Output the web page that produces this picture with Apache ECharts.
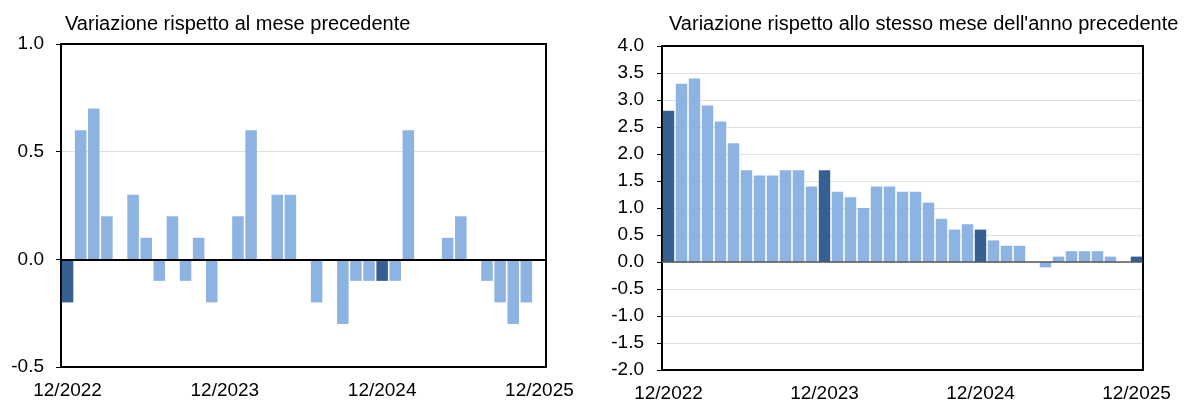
<!DOCTYPE html>
<html>
<head>
<meta charset="utf-8">
<script src="https://cdn.jsdelivr.net/npm/echarts@6/dist/echarts.min.js"></script>
<style>
html,body{margin:0;padding:0;background:#fff;}
#c{width:1185px;height:403px;}
</style>
</head>
<body>
<div id="c"></div>
<script>
// Months 12/2022 .. 12/2025
const categories = [
  "12/2022","1/2023","2/2023","3/2023","4/2023","5/2023","6/2023","7/2023","8/2023","9/2023","10/2023","11/2023",
  "12/2023","1/2024","2/2024","3/2024","4/2024","5/2024","6/2024","7/2024","8/2024","9/2024","10/2024","11/2024",
  "12/2024","1/2025","2/2025","3/2025","4/2025","5/2025","6/2025","7/2025","8/2025","9/2025","10/2025","11/2025",
  "12/2025"
];
// Variazione rispetto al mese precedente
const monthlyChange = [
  -0.2, 0.6, 0.7, 0.2, 0.0, 0.3, 0.1, -0.1, 0.2, -0.1, 0.1, -0.2,
  0.0, 0.2, 0.6, 0.0, 0.3, 0.3, 0.0, -0.2, 0.0, -0.3, -0.1, -0.1,
  -0.1, -0.1, 0.6, 0.0, 0.0, 0.1, 0.2, 0.0, -0.1, -0.2, -0.3, -0.2,
  0.0
];
// Variazione rispetto allo stesso mese dell'anno precedente
const yearlyChange = [
  2.8, 3.3, 3.4, 2.9, 2.6, 2.2, 1.7, 1.6, 1.6, 1.7, 1.7, 1.4,
  1.7, 1.3, 1.2, 1.0, 1.4, 1.4, 1.3, 1.3, 1.1, 0.8, 0.6, 0.7,
  0.6, 0.4, 0.3, 0.3, 0.0, -0.1, 0.1, 0.2, 0.2, 0.2, 0.1, 0.0,
  0.1
];
// December months highlighted
const highlightMonths = ["12/2022","12/2023","12/2024","12/2025"];
const leftTitle = "Variazione rispetto al mese precedente";
const rightTitle = "Variazione rispetto allo stesso mese dell'anno precedente";

const LIGHT = '#8db3e2', DARK = '#366092';
const FONT = 'Liberation Sans, Arial, sans-serif';
const BORDER = {show:true, onZero:false, lineStyle:{color:'#000', width:2}};

function toData(vals){
  return vals.map((v,i)=>({value:v, itemStyle:{color: highlightMonths.includes(categories[i]) ? DARK : LIGHT}}));
}

function xAxes(gi){
  return [{
    type:'category', gridIndex:gi, data:categories, boundaryGap:true, position:'bottom',
    axisLine:BORDER, axisTick:{show:false},
    axisLabel:{interval:(idx)=>idx%12===0, color:'#000', fontFamily:FONT, fontSize:19, margin:14}
  },{
    type:'category', gridIndex:gi, data:categories, position:'top',
    axisLine:BORDER, axisTick:{show:false}, axisLabel:{show:false}
  }];
}
function yAxes(gi,min,max,margin){
  return [{
    type:'value', gridIndex:gi, min:min, max:max, interval:0.5, position:'left',
    axisLine:BORDER,
    axisTick:{show:true, inside:false, length:5, lineStyle:{color:'#000', width:1}},
    splitLine:{show:true, lineStyle:{color:'#e0e0e0', width:1}},
    axisLabel:{color:'#000', fontFamily:FONT, fontSize:19, margin:margin, formatter:(v)=>v.toFixed(1)}
  },{
    type:'value', gridIndex:gi, min:min, max:max, interval:0.5, position:'right',
    axisLine:BORDER, axisTick:{show:false}, splitLine:{show:false}, axisLabel:{show:false}
  }];
}

const chart = echarts.init(document.getElementById('c'), null, {renderer:'canvas'});
chart.setOption({
  animation:false,
  backgroundColor:'#fff',
  title:[
    {text:leftTitle, left:60, top:9, textStyle:{fontFamily:FONT, fontSize:20, fontWeight:'normal', color:'#000'}},
    {text:rightTitle, left:664, top:9, textStyle:{fontFamily:FONT, fontSize:20, fontWeight:'normal', color:'#000'}}
  ],
  grid:[
    {left:61, top:44, width:485, height:323, show:false},
    {left:662, top:46, width:481, height:324, show:false}
  ],
  xAxis:[...xAxes(0), ...xAxes(1)],
  yAxis:[...yAxes(0,-0.5,1.0,17), ...yAxes(1,-2,4,18)],
  series:[
    {type:'bar', xAxisIndex:0, yAxisIndex:0, data:toData(monthlyChange), barCategoryGap:'12%',
     markLine:{silent:true, symbol:'none', label:{show:false}, lineStyle:{color:'#000', width:2, type:'solid'}, data:[{yAxis:0}]}},
    {type:'bar', xAxisIndex:2, yAxisIndex:2, data:toData(yearlyChange), barCategoryGap:'12%',
     markLine:{silent:true, symbol:'none', label:{show:false}, lineStyle:{color:'#595959', width:1.5, type:'solid'}, data:[{yAxis:0}]}}
  ]
});
</script>
</body>
</html>
